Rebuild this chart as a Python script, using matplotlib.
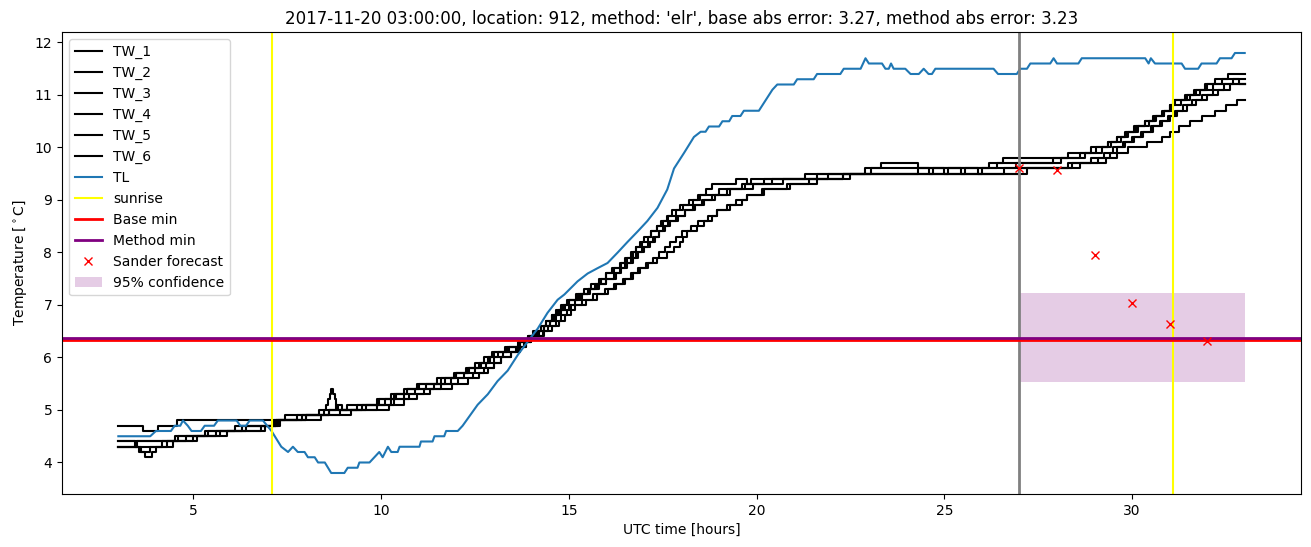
import matplotlib
matplotlib.use("Agg")
import matplotlib.pyplot as plt

# ── data ─────────────────────────────────────────────────────────────────────
# TW_x sensors: (time [h], value [°C]) change points, drawn as steps
tw_1 = [(3.0, 4.7), (3.65, 4.6), (4.05, 4.7), (4.55, 4.8), (7.9, 4.9), (8.6, 5.0),
        (9.35, 5.1), (9.9, 5.2), (10.25, 5.3), (10.6, 5.4), (10.95, 5.5), (11.5, 5.6),
        (11.95, 5.7), (12.25, 5.8), (12.5, 5.9), (12.75, 6.0), (12.95, 6.1), (13.3, 6.2),
        (13.65, 6.3), (13.95, 6.4), (14.1, 6.5), (14.25, 6.6), (14.4, 6.7), (14.55, 6.8),
        (14.65, 6.9), (14.8, 7.0), (14.95, 7.1), (15.2, 7.2), (15.4, 7.3), (15.6, 7.4),
        (15.8, 7.5), (16.0, 7.6), (16.15, 7.7), (16.35, 7.8), (16.5, 7.9), (16.65, 8.0),
        (16.8, 8.1), (16.95, 8.2), (17.1, 8.3), (17.2, 8.4), (17.35, 8.5), (17.45, 8.6),
        (17.6, 8.7), (17.75, 8.8), (17.95, 8.9), (18.3, 9.0), (18.5, 9.1), (18.65, 9.2),
        (18.8, 9.3), (19.45, 9.4), (19.75, 9.3), (19.85, 9.4), (21.6, 9.5), (23.05, 9.6),
        (23.3, 9.7), (24.3, 9.6), (26.4, 9.7), (26.55, 9.8), (28.3, 9.9), (28.9, 10.0),
        (29.35, 10.1), (29.6, 10.2), (29.85, 10.3), (30.1, 10.4), (30.35, 10.5),
        (30.55, 10.6), (30.8, 10.7), (31.0, 10.8), (31.15, 10.9), (31.4, 11.0),
        (31.65, 11.1), (31.95, 11.2), (32.2, 11.3), (32.55, 11.4), (33.0, 11.4)]
tw_2 = [(3.0, 4.4), (3.45, 4.3), (3.6, 4.2), (3.7, 4.1), (3.9, 4.2), (4.0, 4.3), (4.15, 4.4),
        (4.8, 4.5), (5.3, 4.6), (6.1, 4.7), (7.2, 4.8), (7.45, 4.9), (8.35, 5.0), (9.1, 5.1),
        (10.1, 5.2), (10.4, 5.3), (10.7, 5.4), (11.0, 5.5), (11.6, 5.6), (12.0, 5.7),
        (12.3, 5.8), (12.6, 5.9), (12.85, 6.0), (13.0, 6.1), (13.35, 6.2), (13.7, 6.3),
        (13.9, 6.4), (14.15, 6.5), (14.35, 6.6), (14.5, 6.7), (14.65, 6.8), (14.8, 6.9),
        (15.0, 7.0), (15.15, 7.1), (15.35, 7.2), (15.5, 7.3), (15.7, 7.4), (15.85, 7.5),
        (16.0, 7.6), (16.2, 7.7), (16.4, 7.8), (16.55, 7.9), (16.7, 8.0), (16.8, 8.1),
        (16.9, 8.2), (17.0, 8.3), (17.2, 8.4), (17.35, 8.5), (17.5, 8.6), (17.65, 8.7),
        (17.85, 8.8), (18.05, 8.9), (18.2, 9.0), (18.45, 9.1), (19.0, 9.2), (19.6, 9.3),
        (20.2, 9.4), (21.3, 9.5), (22.9, 9.6), (26.2, 9.7), (27.9, 9.8), (28.6, 9.9),
        (29.2, 10.0), (29.45, 10.1), (29.7, 10.2), (29.9, 10.3), (30.15, 10.4),
        (30.45, 10.5), (30.65, 10.6), (30.85, 10.7), (31.0, 10.8), (31.1, 10.9),
        (31.45, 11.0), (31.7, 11.1), (32.0, 11.2), (32.4, 11.3), (33.0, 11.3)]
tw_3 = [(3.0, 4.3), (3.5, 4.4), (4.5, 4.5), (5.4, 4.6), (6.3, 4.7), (7.25, 4.8), (8.4, 4.9),
        (8.47, 5.0), (8.53, 5.1), (8.58, 5.2), (8.63, 5.3), (8.67, 5.4), (8.72, 5.3),
        (8.76, 5.2), (8.8, 5.1), (8.85, 5.0), (9.6, 5.1),
        (10.25, 5.2), (10.6, 5.3), (10.9, 5.4), (11.4, 5.5), (11.85, 5.6), (12.2, 5.7),
        (12.5, 5.8), (12.8, 5.9), (13.0, 6.0), (13.25, 6.1), (13.6, 6.2), (13.8, 6.3),
        (14.0, 6.4), (14.2, 6.5), (14.35, 6.6), (14.5, 6.7), (14.6, 6.8), (14.75, 6.9),
        (14.9, 7.0), (15.0, 7.1), (15.3, 7.2), (15.55, 7.3), (15.8, 7.4), (16.0, 7.5),
        (16.25, 7.6), (16.4, 7.7), (16.55, 7.8), (16.7, 7.9), (16.85, 8.0), (17.0, 8.1),
        (17.15, 8.2), (17.3, 8.3), (17.4, 8.4), (17.5, 8.5), (17.65, 8.6), (17.85, 8.7),
        (18.1, 8.8), (18.35, 8.9), (18.6, 9.0), (18.9, 9.1), (19.3, 9.2), (19.9, 9.3),
        (20.7, 9.4), (22.3, 9.5), (24.3, 9.6), (24.6, 9.5), (24.7, 9.6), (25.0, 9.5),
        (25.1, 9.6), (25.45, 9.5), (25.55, 9.6), (25.9, 9.5), (26.0, 9.6), (26.9, 9.7),
        (28.1, 9.8), (28.75, 9.9), (29.05, 10.0), (29.35, 10.1), (29.6, 10.2), (29.8, 10.3),
        (30.05, 10.4), (30.35, 10.5), (30.6, 10.6), (30.85, 10.7), (31.05, 10.8),
        (31.3, 10.9), (31.55, 11.0), (31.8, 11.1), (32.15, 11.2), (33.0, 11.2)]
tw_4 = [(3.0, 4.3), (3.55, 4.2), (3.85, 4.3), (4.3, 4.4), (5.0, 4.5), (5.7, 4.6), (6.9, 4.7),
        (7.3, 4.8), (8.0, 4.9), (8.6, 5.0), (8.8, 5.1), (8.95, 5.0), (9.9, 5.1), (10.35, 5.2),
        (10.75, 5.3), (11.15, 5.4), (11.6, 5.5), (12.05, 5.6), (12.45, 5.7), (12.75, 5.8),
        (13.0, 5.9), (13.2, 6.0), (13.45, 6.1), (13.7, 6.2), (13.85, 6.3), (14.0, 6.4),
        (14.3, 6.5), (14.45, 6.6), (14.65, 6.7), (14.8, 6.8), (14.95, 6.9), (15.05, 7.0),
        (15.35, 7.1), (15.65, 7.2), (15.95, 7.3), (16.2, 7.4), (16.45, 7.5), (16.65, 7.6),
        (16.85, 7.7), (17.05, 7.8), (17.25, 7.9), (17.4, 8.0), (17.55, 8.1), (17.7, 8.2),
        (17.85, 8.3), (18.0, 8.4), (18.25, 8.5), (18.45, 8.6), (18.7, 8.7), (18.95, 8.8),
        (19.2, 8.9), (19.45, 9.0), (19.75, 9.1), (20.15, 9.2), (20.8, 9.3), (21.4, 9.4),
        (22.3, 9.5), (27.2, 9.6), (28.6, 9.7), (29.1, 9.8), (29.4, 9.9), (29.6, 10.0),
        (29.8, 10.1), (30.05, 10.2), (30.25, 10.3), (30.5, 10.4), (30.75, 10.5),
        (30.95, 10.6), (31.15, 10.7), (31.35, 10.8), (31.6, 10.9), (31.85, 11.0),
        (32.15, 11.1), (32.45, 11.2), (32.7, 11.3), (32.85, 11.2), (33.0, 11.2)]
tw_5 = [(3.0, 4.4), (4.6, 4.5), (5.6, 4.6), (6.4, 4.7), (7.15, 4.8), (8.0, 4.9), (9.2, 5.0),
        (10.2, 5.1), (10.6, 5.2), (10.95, 5.3), (11.3, 5.4), (11.9, 5.5), (12.3, 5.6),
        (12.6, 5.7), (12.85, 5.8), (13.0, 5.9), (13.2, 6.0), (13.45, 6.1), (13.65, 6.2),
        (13.85, 6.3), (14.0, 6.4), (14.35, 6.5), (14.55, 6.6), (14.75, 6.7), (14.9, 6.8),
        (15.05, 6.9), (15.15, 7.0), (15.45, 7.1), (15.75, 7.2), (16.05, 7.3), (16.25, 7.4),
        (16.5, 7.5), (16.7, 7.6), (16.9, 7.7), (17.1, 7.8), (17.35, 7.9), (17.6, 8.0),
        (17.8, 8.1), (17.95, 8.2), (18.05, 8.3), (18.15, 8.4), (18.4, 8.5), (18.6, 8.6),
        (18.8, 8.7), (18.95, 8.8), (19.3, 8.9), (19.6, 9.0), (19.75, 9.1), (20.2, 9.2),
        (20.9, 9.3), (21.6, 9.4), (22.5, 9.5), (26.6, 9.6), (28.4, 9.7), (28.9, 9.8),
        (29.25, 9.9), (29.5, 10.0), (29.75, 10.1), (30.0, 10.2), (30.3, 10.3), (30.55, 10.4),
        (30.8, 10.5), (31.0, 10.6), (31.2, 10.7), (31.45, 10.8), (31.7, 10.9), (32.0, 11.0),
        (32.3, 11.1), (32.6, 11.2), (33.0, 11.2)]
tw_6 = [(3.0, 4.3), (4.45, 4.4), (5.1, 4.5), (5.9, 4.6), (6.8, 4.7), (7.2, 4.8), (7.75, 4.9),
        (8.9, 5.0), (9.5, 5.1), (9.95, 5.2), (10.35, 5.3), (10.7, 5.4), (11.2, 5.5),
        (11.7, 5.6), (12.0, 5.7), (12.35, 5.8), (12.65, 5.9), (12.9, 6.0), (13.1, 6.1),
        (13.4, 6.2), (13.7, 6.3), (13.9, 6.4), (14.05, 6.5), (14.25, 6.6), (14.4, 6.7),
        (14.55, 6.8), (14.7, 6.9), (14.85, 7.0), (15.0, 7.1), (15.25, 7.2), (15.5, 7.3),
        (15.75, 7.4), (16.0, 7.5), (16.2, 7.6), (16.35, 7.7), (16.5, 7.8), (16.65, 7.9),
        (16.8, 8.0), (16.95, 8.1), (17.1, 8.2), (17.25, 8.3), (17.4, 8.4), (17.55, 8.5),
        (17.7, 8.6), (17.9, 8.7), (18.1, 8.8), (18.3, 8.9), (18.55, 9.0), (18.8, 9.1),
        (19.2, 9.2), (19.7, 9.3), (20.4, 9.4), (21.9, 9.5), (27.0, 9.6), (28.3, 9.7),
        (29.3, 9.8), (29.6, 9.9), (29.9, 10.0), (30.4, 10.1), (30.8, 10.2), (31.0, 10.3),
        (31.25, 10.4), (31.55, 10.5), (31.85, 10.6), (32.2, 10.7), (32.5, 10.8),
        (32.8, 10.9), (33.0, 10.9)]
tw_series = {"TW_1": tw_1, "TW_2": tw_2, "TW_3": tw_3,
             "TW_4": tw_4, "TW_5": tw_5, "TW_6": tw_6}

# TL: air temperature, (time, value) points
tl = [(3.0, 4.5), (3.85, 4.5), (4.0, 4.6), (4.4, 4.6), (4.5, 4.7), (4.65, 4.7), (4.72, 4.8),
      (4.85, 4.7), (4.95, 4.6), (5.2, 4.6), (5.3, 4.7), (5.55, 4.7), (5.65, 4.8), (6.15, 4.8),
      (6.25, 4.7), (6.4, 4.7), (6.5, 4.8), (6.85, 4.8), (7.08, 4.6), (7.34, 4.3), (7.52, 4.2),
      (7.65, 4.3), (7.78, 4.2), (7.96, 4.2), (8.05, 4.1), (8.23, 4.1), (8.32, 4.0), (8.5, 4.0),
      (8.67, 3.8), (9.02, 3.8), (9.11, 3.9), (9.37, 3.9), (9.42, 4.0), (9.69, 4.0), (9.82, 4.1),
      (9.95, 4.2), (10.04, 4.1), (10.18, 4.3), (10.27, 4.2), (10.44, 4.2), (10.49, 4.3),
      (11.02, 4.3), (11.06, 4.4), (11.37, 4.4), (11.42, 4.5), (11.68, 4.5), (11.73, 4.6),
      (12.04, 4.6), (12.17, 4.7), (12.57, 5.1), (12.84, 5.3), (13.1, 5.55), (13.37, 5.75),
      (13.64, 6.05), (13.9, 6.3), (14.17, 6.55), (14.43, 6.85), (14.7, 7.1), (14.88, 7.2),
      (15.23, 7.45), (15.5, 7.6), (15.76, 7.7), (16.03, 7.8), (16.3, 8.0), (16.56, 8.2),
      (16.83, 8.4), (17.09, 8.6), (17.36, 8.85), (17.62, 9.2), (17.8, 9.6), (18.07, 9.9),
      (18.33, 10.2), (18.51, 10.3), (18.64, 10.3), (18.73, 10.4), (19.0, 10.4), (19.09, 10.5),
      (19.27, 10.5), (19.35, 10.6), (19.57, 10.6), (19.66, 10.7), (20.06, 10.7), (20.42, 11.1),
      (20.55, 11.2), (20.99, 11.2), (21.08, 11.3), (21.52, 11.3), (21.61, 11.4), (22.23, 11.4),
      (22.32, 11.5), (22.77, 11.5), (22.9, 11.7), (22.99, 11.6), (23.34, 11.6), (23.43, 11.5),
      (23.52, 11.5), (23.58, 11.6), (23.65, 11.5), (23.96, 11.5), (24.1, 11.4), (24.32, 11.4),
      (24.45, 11.5), (24.58, 11.4), (24.67, 11.4), (24.76, 11.5), (26.31, 11.5), (26.43, 11.4),
      (26.93, 11.4), (27.02, 11.5), (27.2, 11.5), (27.29, 11.6), (27.82, 11.6), (27.91, 11.7),
      (28.0, 11.6), (28.57, 11.6), (28.66, 11.7), (30.35, 11.7), (30.44, 11.6), (30.5, 11.7),
      (30.61, 11.6), (31.32, 11.6), (31.41, 11.5), (31.76, 11.5), (31.85, 11.6), (32.25, 11.6),
      (32.34, 11.7), (32.65, 11.7), (32.74, 11.8), (33.0, 11.8)]

sunrise_times = [7.1, 31.1]
forecast_start = 27.0
base_min = 6.335
method_min = 6.375
sander_t = [27, 28, 29, 30, 31, 32]
sander_v = [9.60, 9.57, 7.96, 7.04, 6.64, 6.32]
conf_t = [27.0, 33.0]
conf_lo = [5.53, 5.53]
conf_hi = [7.22, 7.22]

title = ("2017-11-20 03:00:00, location: 912, method: 'elr', "
         "base abs error: 3.27, method abs error: 3.23")


def main():
    fig, ax = plt.subplots(figsize=(13.11, 5.47), dpi=100)
    fig.subplots_adjust(left=0.0473, right=0.9924, top=0.9415, bottom=0.0969)

    for name, pts in tw_series.items():
        ax.plot([p[0] for p in pts], [p[1] for p in pts], color="black",
                drawstyle="steps-post", label=name)
    ax.plot([p[0] for p in tl], [p[1] for p in tl], color="C0", label="TL")

    for i, t in enumerate(sunrise_times):
        ax.axvline(t, color="yellow", label="sunrise" if i == 0 else None)
    ax.axvline(forecast_start, color="grey", linewidth=2)

    ax.axhline(base_min, color="red", linewidth=2, label="Base min")
    ax.axhline(method_min, color="purple", linewidth=2, label="Method min")
    ax.plot(sander_t, sander_v, "x", color="red", linestyle="none", label="Sander forecast")
    ax.fill_between(conf_t, conf_lo, conf_hi, color="purple", alpha=0.2,
                    linewidth=0, label="95% confidence")

    ax.set_title(title)
    ax.set_xlabel("UTC time [hours]")
    ax.set_ylabel(r"Temperature [$^\circ$C]")
    ax.legend(loc="upper left")

    fig.savefig("out.png", dpi=100)
    plt.close(fig)


if __name__ == "__main__":
    main()
